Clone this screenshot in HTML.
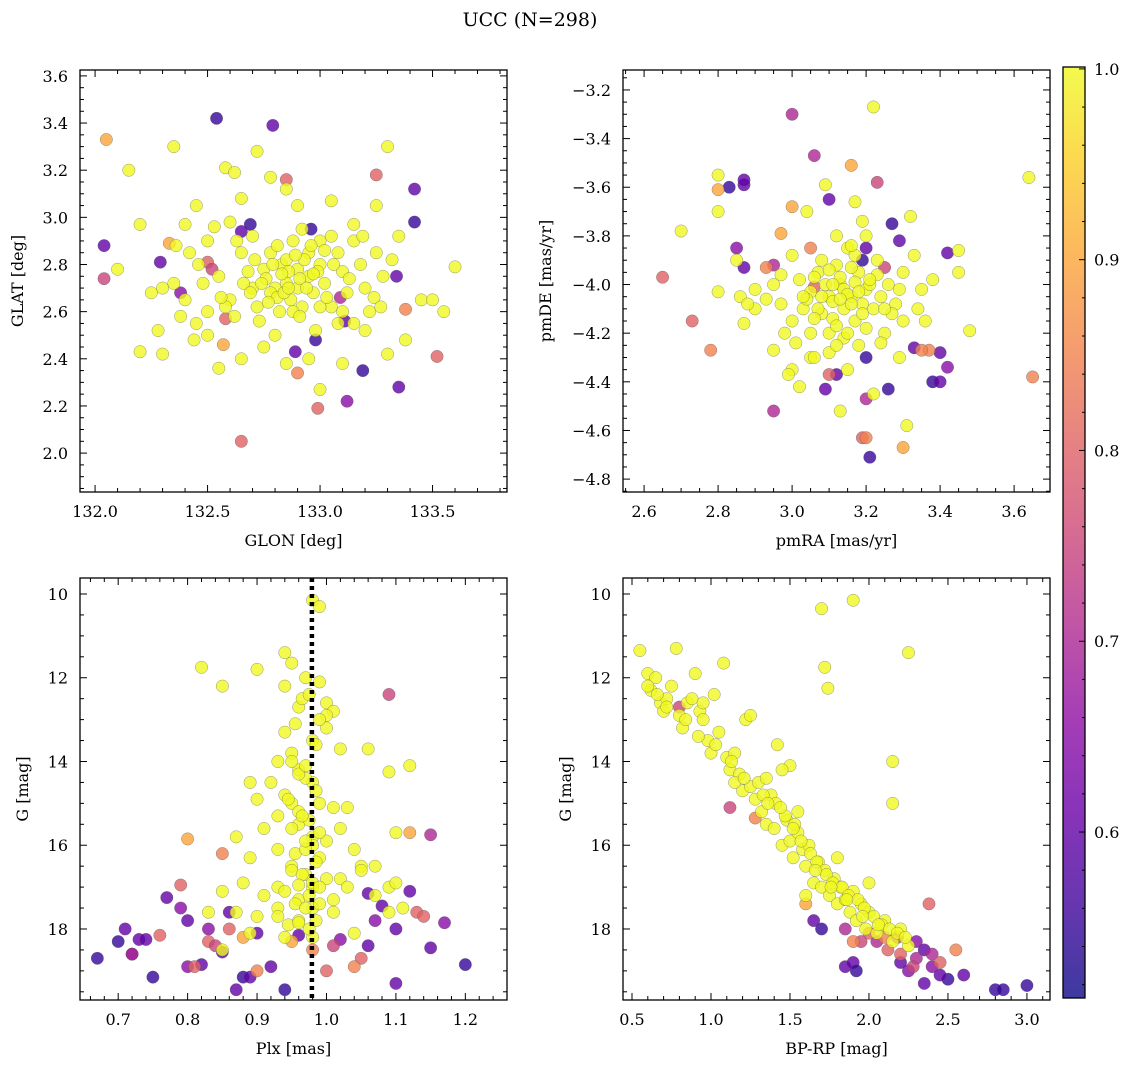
<!DOCTYPE html>
<html><head><meta charset="utf-8"><style>
body{margin:0;background:#fff;}
svg{display:block;font-family:"DejaVu Serif","Liberation Serif",serif;}
</style></head><body>
<svg id="fig" width="1136" height="1067" viewBox="0 0 1136 1067" xmlns="http://www.w3.org/2000/svg">
<defs>
<linearGradient id="plasma" x1="0" y1="1" x2="0" y2="0">
<stop offset="0" stop-color="#0d0887"/><stop offset="0.1" stop-color="#41049d"/><stop offset="0.2" stop-color="#6a00a8"/><stop offset="0.3" stop-color="#8f0da4"/><stop offset="0.4" stop-color="#b12a90"/><stop offset="0.5" stop-color="#cc4778"/><stop offset="0.6" stop-color="#e16462"/><stop offset="0.7" stop-color="#f2844b"/><stop offset="0.8" stop-color="#fca636"/><stop offset="0.9" stop-color="#fcce25"/><stop offset="1" stop-color="#f0f921"/>
</linearGradient>
</defs>
<text x="530" y="26" font-size="19" text-anchor="middle">UCC (N=298)</text>
</svg>
<script>
// ---- data ----
const tlGlon=[132.54,132.79,132.04,132.29,133.42,133.42,132.96,132.89,133.12,133.19,133.35,133.09,132.65,132.69,132.38,133.11,133.34,132.98,
132.05,132.65,132.99,133.52,132.85,133.25,132.9,132.5,132.52,132.58,132.04,133.38,132.33,132.57,
132.15,132.2,132.1,132.2,132.3,132.28,132.35,132.4,132.45,132.5,132.58,132.62,132.65,132.72,132.78,132.85,132.9,133.05,133.3,133.25,133.32,133.45,133.5,133.6,133.55,133.38,133.3,133.2,133.1,133.0,132.95,132.85,132.75,132.65,132.55,132.5,132.45,132.4,132.35,132.3,132.42,132.55,132.6,132.62,132.7,132.72,132.75,132.78,132.8,132.82,132.83,132.85,132.87,132.88,132.9,132.9,132.92,132.95,132.95,132.97,133.0,133.0,133.02,133.05,133.05,133.08,133.1,133.12,133.15,133.18,133.2,133.22,133.25,133.28,133.15,133.08,132.98,132.7,132.65,132.58,132.5,132.48,133.35,132.92,132.78,132.85,132.68,133.0,132.8,133.1,132.38,133.15,132.6,132.25,
132.76,132.81,132.86,132.91,132.93,132.84,132.79,132.74,132.88,132.99,133.03,132.96,132.89,132.83,132.77,132.71,132.94,133.06,132.86,132.81,132.66,132.56,132.46,133.13,133.24,132.63,132.73,132.91,133.02,132.53,132.44,132.36,133.19,133.27,132.69,132.97];
const tlGlat=[3.42,3.39,2.88,2.81,3.12,2.98,2.95,2.43,2.22,2.35,2.28,2.66,2.94,2.97,2.68,2.56,2.75,2.48,
3.33,2.05,2.19,2.41,3.16,3.18,2.34,2.81,2.78,2.57,2.74,2.61,2.89,2.46,
3.2,2.97,2.78,2.43,2.42,2.52,3.3,2.97,3.05,2.9,3.21,3.19,3.08,3.28,3.17,3.12,3.05,3.07,3.3,3.05,2.82,2.65,2.65,2.79,2.6,2.48,2.42,2.52,2.38,2.27,2.4,2.38,2.45,2.4,2.36,2.5,2.55,2.65,2.72,2.7,2.85,2.75,2.65,2.58,2.7,2.62,2.78,2.85,2.7,2.6,2.8,2.72,2.65,2.9,2.78,2.7,2.62,2.85,2.75,2.68,2.9,2.8,2.72,2.62,2.92,2.85,2.77,2.68,2.9,2.8,2.7,2.6,2.85,2.75,2.55,2.55,2.52,2.92,2.85,2.62,2.6,2.72,2.92,2.95,2.68,2.82,2.77,2.62,2.5,2.6,2.58,2.97,2.98,2.68,
2.74,2.66,2.77,2.74,2.82,2.68,2.8,2.72,2.6,2.77,2.66,2.88,2.84,2.76,2.64,2.82,2.7,2.8,2.7,2.88,2.72,2.66,2.8,2.74,2.66,2.9,2.56,2.58,2.86,2.96,2.48,2.88,2.92,2.62,2.68,2.76];
const tlProb=[0.55,0.6,0.6,0.6,0.6,0.55,0.55,0.6,0.65,0.55,0.6,0.7,0.6,0.55,0.65,0.6,0.6,0.55,
0.9,0.8,0.8,0.8,0.8,0.8,0.85,0.8,0.75,0.8,0.75,0.85,0.9,0.9];

const trPmra=[2.87,2.83,2.87,2.95,3.1,3.19,3.2,3.27,3.29,3.33,3.26,3.38,3.4,3.42,3.4,3.42,3.21,3.2,3.12,3.09,3.2,2.85,2.87,3.0,3.06,2.95,3.23,
2.65,2.73,2.78,2.8,2.97,3.0,3.16,3.65,3.19,3.2,3.3,3.37,3.35,3.05,3.25,3.1,2.93,3.06,
2.8,2.8,2.7,2.8,2.86,2.87,2.85,2.9,2.95,2.97,2.98,2.95,3.0,2.99,3.02,3.05,3.03,3.05,3.07,3.08,3.1,3.1,3.12,3.13,3.14,3.15,3.16,3.17,3.18,3.2,3.22,3.23,3.25,3.26,3.28,3.3,3.3,3.32,3.35,3.38,3.45,3.45,3.48,3.64,3.22,3.17,3.09,3.04,3.1,3.15,3.13,3.22,3.31,3.29,3.05,3.0,3.18,3.12,3.2,3.08,3.14,3.11,3.19,3.06,3.16,3.24,2.9,3.0,3.36,3.33,
3.09,3.11,3.13,3.15,3.17,3.19,3.21,3.07,3.04,3.02,3.12,3.16,3.18,3.1,3.14,3.2,3.23,3.27,3.01,3.06,3.13,3.17,3.08,3.11,3.15,2.93,2.97,3.25,3.29,3.19,3.03,3.21,3.12,3.06,3.16,2.88,3.34,3.24];
const trPmde=[-3.59,-3.6,-3.57,-4.52,-3.65,-3.9,-3.85,-3.75,-3.82,-4.26,-4.43,-4.4,-4.4,-4.34,-4.28,-3.87,-4.71,-4.47,-4.37,-4.43,-4.3,-3.85,-3.93,-3.3,-3.47,-3.92,-3.58,
-3.97,-4.15,-4.27,-3.61,-3.79,-3.68,-3.51,-4.38,-4.63,-4.63,-4.67,-4.27,-4.27,-3.85,-3.93,-4.37,-3.93,-4.01,
-3.55,-3.7,-3.78,-4.03,-4.05,-4.16,-3.9,-4.02,-4.0,-4.08,-4.2,-4.27,-4.35,-4.37,-4.42,-4.3,-4.1,-4.03,-3.95,-4.12,-4.05,-4.2,-3.92,-4.0,-4.1,-3.85,-4.05,-4.15,-3.95,-4.02,-4.1,-3.9,-4.2,-4.0,-4.08,-3.95,-4.15,-3.72,-4.02,-3.98,-3.95,-3.86,-4.19,-3.56,-3.27,-3.66,-3.59,-3.7,-4.28,-4.35,-4.52,-4.45,-4.58,-4.3,-4.2,-4.15,-4.25,-3.8,-3.8,-4.05,-4.02,-4.14,-4.08,-3.97,-3.93,-4.05,-4.1,-3.88,-4.15,-3.88,
-4.0,-4.07,-3.97,-4.04,-3.99,-4.12,-4.0,-4.1,-4.06,-3.98,-4.17,-4.08,-4.03,-3.94,-4.22,-4.18,-3.96,-4.12,-4.24,-4.14,-4.06,-3.88,-3.9,-4.0,-4.2,-4.06,-3.96,-4.1,-4.02,-3.74,-4.05,-3.98,-4.25,-4.3,-3.84,-4.08,-4.1,-4.24];
const trProb=[0.6,0.55,0.6,0.7,0.6,0.55,0.6,0.55,0.6,0.6,0.55,0.55,0.6,0.65,0.6,0.6,0.55,0.7,0.6,0.6,0.55,0.65,0.6,0.7,0.7,0.7,0.75,
0.8,0.8,0.85,0.9,0.9,0.9,0.9,0.85,0.8,0.85,0.9,0.85,0.85,0.85,0.75,0.8,0.85,0.8];

const blPlx=[0.67,0.7,0.71,0.72,0.73,0.75,0.77,0.79,0.8,0.8,0.82,0.83,0.85,0.86,0.87,0.88,0.89,0.9,0.92,0.94,0.96,1.02,1.06,1.06,1.07,1.08,1.1,1.1,1.15,1.17,1.2,1.12,0.74,
0.72,0.76,0.79,0.8,0.85,0.83,0.84,0.86,0.9,0.88,1.0,1.01,1.05,1.09,1.13,1.15,1.14,0.98,1.12,0.81,0.95,1.04,
0.98,0.99,0.82,0.85,0.9,0.94,0.95,0.94,0.97,0.99,1.0,1.01,0.96,0.94,0.98,1.0,0.95,0.96,0.98,1.02,1.06,1.09,0.89,0.92,0.94,0.95,0.99,1.01,1.03,0.9,0.91,0.93,0.96,0.98,1.0,1.02,1.04,1.07,1.1,0.87,0.89,0.93,0.95,0.97,0.99,1.0,1.02,1.05,1.09,0.85,0.88,0.91,0.93,0.96,0.98,1.01,1.03,1.07,1.1,1.11,0.83,0.87,0.9,0.93,0.96,0.98,1.01,1.04,0.85,0.89,0.94,0.98,1.09,1.12,1.05,0.93,0.97,1.0,
0.955,0.965,0.975,0.985,0.95,0.96,0.97,0.985,0.945,0.96,0.975,0.99,0.95,0.965,0.98,0.955,0.97,0.985,0.95,0.965,0.98,0.94,0.96,0.975,0.99,0.955,0.97,0.985,0.945,0.96,0.975,0.99,0.93,0.97,0.99,0.95];
const blG=[18.7,18.3,18.0,18.6,18.25,19.15,17.25,17.5,17.8,18.9,18.85,18.0,18.55,17.6,19.45,19.15,19.15,18.1,18.9,19.45,18.15,18.25,17.15,18.4,17.8,17.45,18.0,19.3,18.45,17.85,18.85,17.1,18.25,
18.6,18.15,16.95,15.85,16.2,18.3,18.4,18.0,19.0,18.2,19.0,18.4,18.7,12.4,17.6,15.75,17.7,18.5,15.7,18.9,18.3,18.9,
10.15,10.3,11.75,12.2,11.8,11.4,11.65,12.2,12.0,12.1,12.6,12.8,12.7,13.3,13.5,13.2,13.8,14.2,14.5,13.7,13.7,14.25,14.5,14.5,14.8,15.0,15.0,15.1,15.1,14.9,15.6,15.3,15.5,15.8,15.9,15.6,16.1,16.5,15.7,15.8,16.3,16.1,16.5,16.7,16.3,16.8,16.8,16.5,17.0,17.1,16.9,17.2,17.0,17.3,17.0,17.3,17.0,17.2,16.9,17.5,17.6,17.6,17.7,17.5,17.8,17.5,17.6,18.1,18.5,18.1,18.2,18.2,17.6,14.1,16.6,14.0,14.4,
12.9,13.1,12.5,12.4,13.6,14.0,14.3,14.1,14.7,14.9,15.2,15.4,15.7,15.6,15.3,16.0,16.2,16.1,16.4,16.6,16.7,16.9,17.1,16.95,17.2,17.4,17.4,17.5,17.8,17.9,17.85,18.0,17.0,17.7,15.9,13.0];
const blProb=[0.55,0.55,0.6,0.6,0.6,0.55,0.6,0.65,0.6,0.65,0.6,0.65,0.6,0.6,0.6,0.55,0.6,0.6,0.6,0.55,0.6,0.65,0.6,0.6,0.65,0.6,0.6,0.6,0.6,0.65,0.55,0.6,0.6,
0.7,0.8,0.8,0.9,0.85,0.8,0.75,0.8,0.85,0.9,0.8,0.75,0.8,0.75,0.8,0.7,0.8,0.85,0.9,0.8,0.9,0.85];
const plxLine=0.979;

const brColor=[1.12,1.7,1.65,1.9,1.92,1.85,2.8,2.85,3.0,2.6,2.55,2.5,2.45,2.4,2.35,2.3,2.25,2.2,2.18,2.12,2.05,2.0,1.95,1.85,2.38,2.4,2.3,2.28,2.35,2.45,2.1,1.9,2.2,1.6,1.28,0.8,
0.55,0.6,0.62,0.65,0.68,0.7,0.72,0.75,0.78,0.8,0.82,0.85,0.88,0.9,0.93,0.95,0.98,1.0,1.02,1.05,1.08,1.1,1.12,1.15,1.18,1.2,1.22,1.25,1.28,1.3,1.32,1.35,1.38,1.4,1.42,1.45,1.48,1.5,1.52,1.55,1.58,1.6,1.62,1.65,1.68,1.7,1.72,1.75,1.78,1.8,1.82,1.85,1.88,1.9,1.92,1.95,1.98,2.0,2.05,2.1,2.15,2.2,2.25,2.0,2.15,2.15,2.25,1.9,1.7,1.72,1.74,1.5,1.45,1.55,1.25,0.95,1.15,1.35,1.6,1.8,0.6,
0.66,0.72,0.84,0.92,1.03,1.13,1.21,1.33,1.41,1.47,1.53,1.57,1.63,1.67,1.73,1.77,1.83,1.87,1.93,1.97,2.03,2.08,2.13,2.18,2.23,1.44,1.36,1.52,1.66,1.76,1.86,1.96,2.06];
const brG=[15.1,18.0,17.8,18.8,19.0,18.9,19.45,19.45,19.35,19.1,18.5,19.2,19.1,18.9,18.5,18.7,19.0,18.8,18.2,18.5,18.3,18.1,18.3,18.0,17.4,18.6,18.3,18.9,19.3,18.8,18.2,18.3,18.6,17.4,15.35,12.7,
11.35,11.9,12.3,12.0,12.6,12.8,12.5,12.2,11.3,12.9,13.2,12.6,12.5,11.9,12.8,13.0,13.5,13.8,12.4,13.3,11.65,13.9,14.2,13.8,14.3,14.7,13.0,14.6,14.9,14.5,15.2,15.5,14.8,15.6,13.6,16.0,15.4,15.9,16.3,15.7,16.1,16.5,16.0,16.9,16.4,17.0,16.6,17.2,16.8,17.4,17.0,17.3,17.6,17.1,17.8,17.4,18.0,17.6,18.1,17.8,18.3,18.0,18.4,16.9,15.0,14.0,11.4,10.15,10.35,11.75,12.25,14.1,14.2,15.2,12.9,12.6,14.5,14.4,17.2,16.3,12.2,
12.4,12.7,13.0,13.4,13.6,14.0,14.4,14.8,15.0,15.3,15.5,15.9,16.2,16.4,16.7,16.9,17.0,17.2,17.3,17.5,17.7,17.9,18.0,18.1,18.2,15.1,15.0,15.6,16.6,17.0,17.3,17.7,17.9];
const brProb=[0.75,0.55,0.6,0.6,0.55,0.6,0.55,0.55,0.55,0.6,0.85,0.55,0.6,0.65,0.6,0.7,0.65,0.6,0.75,0.8,0.7,0.8,0.75,0.7,0.8,0.7,0.65,0.75,0.6,0.8,0.85,0.85,0.8,0.9,0.85,0.75];

// ---- rendering ----
const NS='http://www.w3.org/2000/svg';
const svg=document.getElementById('fig');
function mk(tag,attrs,parent){const e=document.createElementNS(NS,tag);for(const k in attrs)e.setAttribute(k,attrs[k]);(parent||svg).appendChild(e);return e;}
const stops=[[0,[13,8,135]],[0.1,[65,4,157]],[0.2,[106,0,168]],[0.3,[143,13,164]],[0.4,[177,42,144]],[0.5,[204,71,120]],[0.6,[225,100,98]],[0.7,[242,132,75]],[0.8,[252,166,54]],[0.9,[252,206,37]],[1,[240,249,33]]];
const VMIN=0.513,VMAX=1.0;
function plasma(v){let t=(v-VMIN)/(VMAX-VMIN);t=Math.max(0,Math.min(1,t));for(let i=1;i<stops.length;i++){if(t<=stops[i][0]){const a=stops[i-1],b=stops[i];const f=(t-a[0])/(b[0]-a[0]);const c=a[1].map((x,j)=>Math.round(x+(b[1][j]-x)*f));return `rgb(${c})`;}}return 'rgb(240,249,33)';}
function fmt(v,d){return (v<0?'\u2212':'')+Math.abs(v).toFixed(d);}

function panel(o){
  const g=mk('g',{});
  
  
  const sx=v=>o.x0+(v-o.xmin)/(o.xmax-o.xmin)*(o.x1-o.x0);
  const sy=o.yinv?(v=>o.y0+(v-o.ymin)/(o.ymax-o.ymin)*(o.y1-o.y0)):(v=>o.y1-(v-o.ymin)/(o.ymax-o.ymin)*(o.y1-o.y0));
  const clip='clip-'+o.name;
  const cp=mk('clipPath',{id:clip},g);mk('rect',{x:o.x0,y:o.y0,width:o.x1-o.x0,height:o.y1-o.y0},cp);
  const pts=mk('g',{'clip-path':`url(#${clip})`},g);
  
  
  for(let i=0;i<o.xs.length;i++){
    const p=i<o.ps.length?o.ps[i]:1.0;
    const c=mk('circle',{cx:sx(o.xs[i]),cy:sy(o.ys[i]),r:6.2,fill:plasma(p),'fill-opacity':0.8,stroke:'#555','stroke-width':0.5,'stroke-opacity':0.6},pts);
    
    
  }
  if(o.vline!==undefined){
    const l=mk('line',{x1:sx(o.vline),x2:sx(o.vline),y1:o.y0,y2:o.y1,stroke:'#000','stroke-width':4.5,'stroke-dasharray':'4,4'},g);
    
    
  }
  const fr=mk('rect',{x:o.x0,y:o.y0,width:o.x1-o.x0,height:o.y1-o.y0,fill:'none',stroke:'#000','stroke-width':1.3},g);
  
  
  const tk=mk('g',{stroke:'#000','stroke-width':1},g);
  const lo=Math.min(o.xmin,o.xmax),hi=Math.max(o.xmin,o.xmax);
  for(let k=Math.ceil(lo/o.xminor-1e-6);k*o.xminor<=hi+1e-9;k++){const v=k*o.xminor;const X=sx(v);const maj=Math.abs(v/o.xmajor-Math.round(v/o.xmajor))<1e-6;const L=maj?7:4;
    mk('line',{x1:X,x2:X,y1:o.y1,y2:o.y1-L},tk);mk('line',{x1:X,x2:X,y1:o.y0,y2:o.y0+L},tk);
    if(maj){const t=mk('text',{x:X,y:o.y1+25,'font-size':16,'text-anchor':'middle',stroke:'none'},g);t.textContent=fmt(v,o.xd);}}
  const ylo=Math.min(o.ymin,o.ymax),yhi=Math.max(o.ymin,o.ymax);
  for(let k=Math.ceil(ylo/o.yminor-1e-6);k*o.yminor<=yhi+1e-9;k++){const v=k*o.yminor;const Y=sy(v);const maj=Math.abs(v/o.ymajor-Math.round(v/o.ymajor))<1e-6;const L=maj?7:4;
    mk('line',{x1:o.x0,x2:o.x0+L,y1:Y,y2:Y},tk);mk('line',{x1:o.x1,x2:o.x1-L,y1:Y,y2:Y},tk);
    if(maj){const t=mk('text',{x:o.x0-12,y:Y+6,'font-size':16,'text-anchor':'end',stroke:'none'},g);t.textContent=fmt(v,o.yd);}}
  const xl=mk('text',{x:(o.x0+o.x1)/2,y:o.y1+54,'font-size':16,'text-anchor':'middle'},g);xl.textContent=o.xlabel;
  
  const yx=o.ylx,yy=(o.y0+o.y1)/2;
  const yl=mk('text',{x:yx,y:yy,'font-size':16,'text-anchor':'middle',transform:`rotate(-90 ${yx} ${yy})`},g);yl.textContent=o.ylabel;
  
}

panel({name:'glon-glat-panel',x0:80,x1:507,y0:70,y1:492,xmin:131.933,xmax:133.831,ymin:1.835,ymax:3.625,xmajor:0.5,xminor:0.1,ymajor:0.2,yminor:0.05,xd:1,yd:1,xs:tlGlon,ys:tlGlat,ps:tlProb,xlabel:'GLON [deg]',ylabel:'GLAT [deg]',ylx:23});
panel({name:'pm-panel',x0:623,x1:1050,y0:70,y1:492,xmin:2.543,xmax:3.697,ymin:-4.853,ymax:-3.118,xmajor:0.2,xminor:0.05,ymajor:0.2,yminor:0.05,xd:1,yd:1,xs:trPmra,ys:trPmde,ps:trProb,xlabel:'pmRA [mas/yr]',ylabel:'pmDE [mas/yr]',ylx:551});
panel({name:'plx-g-panel',x0:80,x1:507,y0:578,y1:1000,xmin:0.645,xmax:1.26,ymin:9.618,ymax:19.696,yinv:true,xmajor:0.1,xminor:0.02,ymajor:2,yminor:0.5,xd:1,yd:0,xs:blPlx,ys:blG,ps:blProb,vline:plxLine,xlabel:'Plx [mas]',ylabel:'G [mag]',ylx:28});
panel({name:'cmd-panel',x0:623,x1:1050,y0:578,y1:1000,xmin:0.443,xmax:3.146,ymin:9.618,ymax:19.696,yinv:true,xmajor:0.5,xminor:0.1,ymajor:2,yminor:0.5,xd:1,yd:0,xs:brColor,ys:brG,ps:brProb,xlabel:'BP-RP [mag]',ylabel:'G [mag]',ylx:571});

// colorbar
const cbTicks=[0.6,0.7,0.8,0.9,1.0];
const cb=mk('g',{});


const cy0=67,cy1=998,cx0=1063,cx1=1085;
const cys=v=>cy1-(v-VMIN)/(1.001-VMIN)*(cy1-cy0);
mk('rect',{x:cx0,y:cy0,width:cx1-cx0,height:cy1-cy0,fill:'url(#plasma)','fill-opacity':0.8},cb);
mk('rect',{x:cx0,y:cy0,width:cx1-cx0,height:cy1-cy0,fill:'none',stroke:'#000','stroke-width':1.3},cb);
for(let k=26;k<=50;k++){const v=k*0.02;const Y=cys(v);const maj=(k%5===0);mk('line',{x1:cx1,x2:cx1-(maj?6:3),y1:Y,y2:Y,stroke:'#000'},cb);}
cbTicks.forEach(v=>{const t=mk('text',{x:cx1+9,y:cys(v)+6,'font-size':16},cb);t.textContent=v.toFixed(1);});
</script>
</body></html>
